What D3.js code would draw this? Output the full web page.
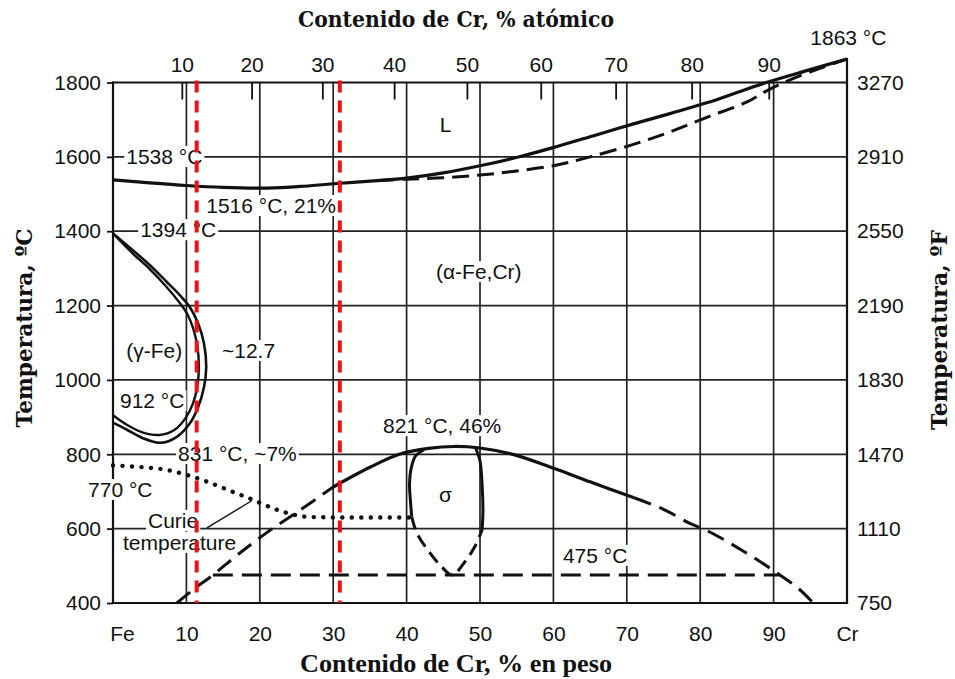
<!DOCTYPE html>
<html>
<head>
<meta charset="utf-8">
<script src="https://cdn.jsdelivr.net/npm/d3@7"></script>
<style>
  body { margin: 0; background: #fff; }
  svg { display: block; }
</style>
</head>
<body>
<svg id="chart" width="955" height="679"></svg>
<script>
// Fe–Cr equilibrium phase diagram (temperature vs. Cr content)

// ---- axis data ----
const wtTicks = [0, 10, 20, 30, 40, 50, 60, 70, 80, 90, 100];
const wtTickLabels = ["Fe", "10", "20", "30", "40", "50", "60", "70", "80", "90", "Cr"];
const atTicks = [10, 20, 30, 40, 50, 60, 70, 80, 90];
const tempTicksC = [400, 600, 800, 1000, 1200, 1400, 1600, 1800];
const tempTicksF = ["750", "1110", "1470", "1830", "2190", "2550", "2910", "3270"];
const gridWt = [10, 20, 30, 40, 50, 60, 70, 80, 90];
const gridC = [600, 800, 1000, 1200, 1400, 1600];

// ---- phase boundaries: [wt% Cr, °C] ----
const liquidus = [[0,1538],[5,1530],[10,1523],[15,1518],[21,1516],[26,1521],[31,1529],[36,1536],
  [40,1543],[45,1557],[50,1576],[55.5,1601],[60.5,1628],[65.5,1657],[70.8,1688],[76,1717],
  [81,1746],[85,1773],[89,1800],[94.5,1832],[100,1863]];
const solidus = [[36,1536],[40,1540],[45,1544],[50,1551],[55,1562],[60.5,1578],[65,1600],
  [70.8,1633],[76,1668],[81,1707],[86.3,1747],[89,1777],[92,1805],[96,1836],[100,1863]];

// γ loop: (α+γ)/α boundary and γ/(α+γ) boundary
const gammaOuter = [[0,1394],[2.7,1349],[5,1309],[7.3,1264],[9.1,1228],[10.5,1195],[11.6,1152],
  [12.4,1098],[12.7,1035],[12.4,981],[11.6,927],[10.5,884],[8.7,847],[6.5,831],[4,844],
  [1.9,866],[0,885]];
const gammaInner = [[0,1394],[2.7,1340],[5,1298],[7.3,1250],[8.9,1212],[10.1,1178],[10.9,1140],
  [11.5,1090],[11.7,1035],[11.5,985],[10.9,937],[9.9,898],[8.4,866],[6.3,852],[4,859],
  [2,878],[0,905]];

const curie = [[0,770],[2.7,767],[7.3,758],[10.5,742],[13,725],[16.3,699],[19,678],[22.3,651],
  [25,636],[27,631],[33,630],[40.7,630]];

const domeLeft = [[8.7,400],[11,437],[13.6,475],[17,530],[21,590],[25.5,650],[30,712]];
const domeTop = [[30,712],[35,765],[39,800],[43,816],[46.5,821],[50,817],[54.6,799],[60.5,759],
  [65,726],[71,683]];
const domeRight = [[71,683],[75,652],[78.6,614],[81,594],[86,538],[90.9,475],[93.5,437],[95.4,400]];

const sigmaLeft = [[42.4,813],[41.2,795],[40.6,760],[40.4,720],[40.5,680],[40.7,632]];
const sigmaRight = [[49.4,817],[50,782],[50.3,713],[50.4,650],[50.3,597]];
const sigmaLower = [[40.7,632],[41.4,588],[43.2,534],[44.8,497],[46.2,475],[47.8,507],[49.3,552],[50.3,597]];

const line475 = [[13.6,475],[90.9,475]];
const curieLeader = [[12.8,602],[18.9,675]];
const markerLinesWt = [11.4, 30.9];

// ---- labels: [text, wt% (left edge), °C (baseline), white backing] ----
const labels = [
  ["L", 44.5, 1667, false],
  ["1538 °C", 1.8, 1581, true],
  ["1516 °C, 21%", 12.7, 1449, true],
  ["1394 °C", 3.7, 1384, true],
  ["(α-Fe,Cr)", 44.0, 1271, true],
  ["(γ-Fe)", 1.8, 1059, false],
  ["~12.7", 14.85, 1059, true],
  ["912 °C", 0.95, 924, true],
  ["821 °C, 46%", 36.8, 857, true],
  ["831 °C, ~7%", 8.86, 782, true],
  ["770 °C", -3.4, 685, true],
  ["Curie", 4.77, 602, true],
  ["temperature", 1.36, 543, true],
  ["σ", 44.4, 672, false],
  ["475 °C", 61.3, 508, true],
  ["1863 °C", 95.0, 1901, false]
];

// ---- scales ----
const x = d3.scaleLinear().domain([0, 100]).range([113, 847]);
const y = d3.scaleLinear().domain([400, 1800]).range([603, 82.5]);

// atomic % -> weight % Cr
const M_CR = 51.996, M_FE = 55.845;
const atToWt = a => 100 * a * M_CR / (a * M_CR + (100 - a) * M_FE);

const svg = d3.select("#chart");
const SANS = "'Liberation Sans', Arial, Helvetica, sans-serif";
const INK = "#111";

const gGrid = svg.append("g");
const gFrame = svg.append("g");
const gBack = svg.append("g");
const gCurves = svg.append("g");
const gText = svg.append("g");
const gAxes = svg.append("g");
const gMarks = svg.append("g");

// grid
gGrid.selectAll("line.v").data(gridWt).join("line")
  .attr("x1", d => x(d)).attr("x2", d => x(d))
  .attr("y1", y(1800)).attr("y2", y(400))
  .attr("stroke", "#222").attr("stroke-width", 1.7);
gGrid.selectAll("line.h").data(gridC).join("line")
  .attr("x1", x(0)).attr("x2", x(100))
  .attr("y1", d => y(d)).attr("y2", d => y(d))
  .attr("stroke", "#222").attr("stroke-width", 1.7);

// frame
const frame = [
  [x(0), y(1800), x(0), y(400)],
  [x(0), y(400), x(100), y(400)],
  [x(0), y(1800), x(100), y(1800)],
  [x(100), y(400), x(100), y(1863)]
];
gFrame.selectAll("line").data(frame).join("line")
  .attr("x1", d => d[0]).attr("y1", d => d[1]).attr("x2", d => d[2]).attr("y2", d => d[3])
  .attr("stroke", INK).attr("stroke-width", 2.2).attr("stroke-linecap", "square");

// curves
const smooth = d3.line().x(d => x(d[0])).y(d => y(d[1])).curve(d3.curveCatmullRom.alpha(0.5));
const mono = d3.line().x(d => x(d[0])).y(d => y(d[1])).curve(d3.curveMonotoneX);
const straight = d3.line().x(d => x(d[0])).y(d => y(d[1]));

function draw(gen, data, width, dash, cap) {
  gCurves.append("path")
    .attr("d", gen(data))
    .attr("fill", "none")
    .attr("stroke", INK)
    .attr("stroke-width", width)
    .attr("stroke-dasharray", dash || null)
    .attr("stroke-linecap", cap || "butt")
    .attr("stroke-linejoin", "round");
}

draw(smooth, solidus, 3, "17,8");
draw(smooth, liquidus, 3.2);
draw(smooth, gammaOuter, 2.6);
draw(smooth, gammaInner, 2.4);
draw(mono, curie, 4.4, "0.1,9.4", "round");
draw(smooth, domeLeft, 3, "17,9");
draw(smooth, domeTop, 3.2);
draw(smooth, domeRight, 3, "18,9");
draw(smooth, sigmaLeft, 3);
draw(smooth, sigmaRight, 3);
draw(smooth, sigmaLower, 3, "13,7");
draw(straight, line475, 3, "20,9");
draw(straight, curieLeader, 1.4);

// labels with optional white backing
labels.forEach(([txt, wx, tc, backed]) => {
  const t = gText.append("text")
    .attr("x", x(wx)).attr("y", y(tc))
    .attr("font-family", SANS).attr("font-size", 21)
    .attr("fill", INK)
    .text(txt);
  if (backed) {
    const b = t.node().getBBox();
    gBack.append("rect")
      .attr("x", b.x - 2).attr("y", b.y + 1)
      .attr("width", b.width + 4).attr("height", b.height - 2)
      .attr("fill", "#fff");
  }
});

// axes
function styleAxis(g) {
  g.select(".domain").remove();
  g.attr("font-family", SANS).attr("font-size", 21);
  g.selectAll("text").attr("fill", INK);
  g.selectAll(".tick line").attr("stroke", INK).attr("stroke-width", 1.8);
}

gAxes.append("g")
  .attr("transform", `translate(${x(0)},0)`)
  .call(d3.axisLeft(y).tickValues(tempTicksC).tickSize(6).tickPadding(6).tickFormat(d3.format("d")))
  .call(styleAxis);

gAxes.append("g")
  .attr("transform", `translate(${x(100)},0)`)
  .call(d3.axisRight(y).tickValues(tempTicksC).tickSize(0).tickPadding(10)
    .tickFormat((d, i) => tempTicksF[i]))
  .call(styleAxis);

gAxes.append("g")
  .attr("transform", `translate(0,${y(1800)})`)
  .call(d3.axisTop(x).tickValues(atTicks.map(atToWt)).tickSizeInner(-17).tickSizeOuter(0)
    .tickPadding(10.5).tickFormat((d, i) => atTicks[i]))
  .call(styleAxis);

const bottomAxis = gAxes.append("g")
  .attr("transform", `translate(0,${y(400)})`)
  .call(d3.axisBottom(x).tickValues(wtTicks).tickSize(0).tickPadding(23)
    .tickFormat((d, i) => wtTickLabels[i]))
  .call(styleAxis);
bottomAxis.selectAll(".tick text").filter(d => d === 0).attr("dx", 9);

// axis titles
const SERIF = "'DejaVu Serif', 'Liberation Serif', serif";
svg.append("text")
  .attr("x", 456).attr("y", 27).attr("text-anchor", "middle")
  .attr("font-family", SERIF).attr("font-weight", "bold").attr("font-size", 22)
  .attr("textLength", 316).attr("lengthAdjust", "spacingAndGlyphs")
  .attr("fill", INK)
  .text("Contenido de Cr, % atómico");

svg.append("text")
  .attr("x", 456).attr("y", 672).attr("text-anchor", "middle")
  .attr("font-family", "'Liberation Serif', 'Times New Roman', serif")
  .attr("font-weight", "bold").attr("font-size", 25)
  .attr("textLength", 312).attr("lengthAdjust", "spacingAndGlyphs")
  .attr("fill", INK)
  .text("Contenido de Cr, % en peso");

svg.append("text")
  .attr("transform", "translate(32,328) rotate(-90)")
  .attr("text-anchor", "middle")
  .attr("font-family", SERIF).attr("font-weight", "bold").attr("font-size", 22)
  .attr("textLength", 199).attr("lengthAdjust", "spacingAndGlyphs")
  .attr("fill", INK)
  .text("Temperatura, ºC");

svg.append("text")
  .attr("transform", "translate(947,330) rotate(-90)")
  .attr("text-anchor", "middle")
  .attr("font-family", SERIF).attr("font-weight", "bold").attr("font-size", 22)
  .attr("textLength", 200).attr("lengthAdjust", "spacingAndGlyphs")
  .attr("fill", INK)
  .text("Temperatura, ºF");

// red dashed composition markers
gMarks.selectAll("line").data(markerLinesWt).join("line")
  .attr("x1", d => x(d)).attr("x2", d => x(d))
  .attr("y1", y(1800) - 2).attr("y2", y(400))
  .attr("stroke", "#f01010").attr("stroke-width", 4)
  .attr("stroke-dasharray", "12,8");
</script>
</body>
</html>
